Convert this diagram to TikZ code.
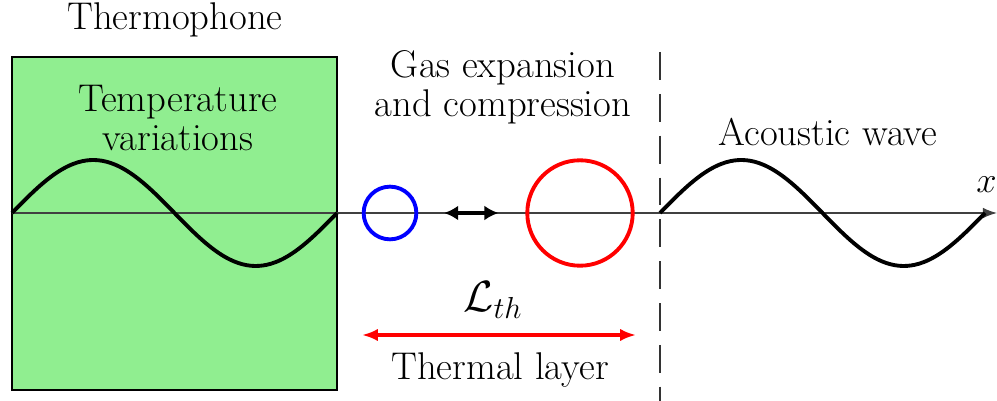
\documentclass[tikz,border=0pt]{standalone}
\usepackage{amsmath,amssymb}
\usepackage{tikz}
\usetikzlibrary{arrows.meta,calc,positioning}
\definecolor{thgreen}{RGB}{144,238,144}
\definecolor{thblue}{RGB}{0,0,255}
\definecolor{thred}{RGB}{255,0,0}
\tikzset{
  lbl/.style={font=\fontsize{22}{22}\selectfont,align=center},
  wave/.style={line width=2.2pt,black},
  bubble/.style={circle,line width=2.2pt,inner sep=0pt}
}
\begin{document}
\begin{tikzpicture}[x=.02cm,y=-.02cm,>=Latex]
    \useasboundingbox (0,0) rectangle (997,401);
    % heater block
    \draw[fill=thgreen,line width=1.1pt] (12,57) rectangle (337,390);
    \node[lbl] (title) at (175,20) {Thermophone};
    \node[lbl] (temp) at (178,118) {Temperature\\variations};
    % axis
    \coordinate (x0) at (12,213);
    \coordinate (x1) at (997,213);
    \draw[-{Latex[length=8pt,width=6pt]},line width=.8pt,black!75] (x0)--(x1);
    \node[lbl,anchor=south east,inner sep=0pt] (xlab) at (997,193) {$x$};
    % waves
    \draw[wave,domain=0:325,samples=80,smooth] plot ({12+\x},{213-53*sin(1.107692*\x)});
    \draw[wave,domain=0:325,samples=80,smooth] plot ({660+\x},{213-53*sin(1.107692*\x)});
    % bubbles
    \node[bubble,draw=thblue,minimum size=30pt] (small) at (390,213) {};
    \node[bubble,draw=thred,minimum size=60pt] (large) at (580,213) {};
    \draw[{Latex[length=8pt,width=8.5pt]}-{Latex[length=8pt,width=8.5pt]},line width=2.8pt,shorten <=14.7pt,shorten >=15.3pt] (small) -- (large);
    \node[lbl] (gas) at (503,87) {Gas expansion\\and compression};
    \node[lbl] (ac) at (828,132) {Acoustic wave};
    % thermal layer
    \draw[dashed,dash pattern=on 28pt*.567 off 14pt*.567,line width=1pt,black!80] (660,52) -- (660,401);
    \coordinate (l0) at (362,335);
    \coordinate (l1) at (636,335);
    \draw[{Latex[length=9pt,width=7pt]}-{Latex[length=9pt,width=7pt]},thred,line width=2pt] (l0) -- (l1);
    \node[lbl,font=\fontsize{25}{25}\selectfont] (lth) at (493,300) {$\mathcal{L}_{th}$};
    \node[lbl] (layer) at (500,370) {Thermal layer};
  \end{tikzpicture}
\end{document}
